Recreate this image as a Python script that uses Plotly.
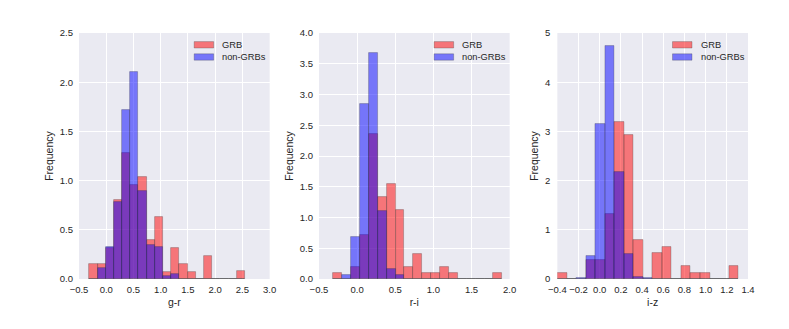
import plotly.graph_objects as go

# ---------------- data (density histograms) ----------------
# bin edges for each panel (19 bins each)
gr_edges = [-0.310, -0.160, -0.009, 0.141, 0.291, 0.442, 0.592, 0.742, 0.892, 1.043,
            1.193, 1.343, 1.494, 1.644, 1.794, 1.945, 2.095, 2.245, 2.395, 2.546]
gr_grb = [0.152, 0.152, 0.32, 0.80, 1.277, 0.955, 1.033, 0.396, 0.633, 0.074,
          0.315, 0.152, 0.074, 0.0, 0.234, 0.0, 0.0, 0.0, 0.078]
gr_non = [0.0, 0.112, 0.322, 0.78, 1.72, 2.10, 0.894, 0.345, 0.322, 0.034,
          0.051, 0.0, 0.0, 0.0, 0.0, 0.0, 0.0, 0.0, 0.0]

ri_edges = [-0.311, -0.195, -0.078, 0.039, 0.155, 0.272, 0.388, 0.505, 0.621, 0.738,
            0.854, 0.971, 1.087, 1.204, 1.320, 1.437, 1.553, 1.670, 1.786, 1.903]
ri_grb = [0.097, 0.0, 0.19, 0.714, 2.365, 1.336, 1.537, 1.12, 0.195, 0.40,
          0.092, 0.092, 0.19, 0.092, 0.0, 0.0, 0.0, 0.0, 0.092]
ri_non = [0.0, 0.065, 0.68, 2.84, 3.67, 1.104, 0.162, 0.06, 0.0, 0.0,
          0.0, 0.0, 0.0, 0.0, 0.0, 0.0, 0.0, 0.0, 0.0]

iz_edges = [-0.400, -0.310, -0.220, -0.130, -0.040, 0.050, 0.140, 0.230, 0.320, 0.410,
            0.500, 0.590, 0.680, 0.770, 0.860, 0.950, 1.040, 1.130, 1.220, 1.310]
iz_grb = [0.115, 0.0, 0.0, 0.386, 0.386, 1.326, 3.19, 2.92, 0.79, 0.0,
          0.53, 0.656, 0.0, 0.257, 0.122, 0.122, 0.0, 0.0, 0.257]
iz_non = [0.0, 0.0, 0.02, 0.467, 3.16, 4.73, 2.165, 0.50, 0.047, 0.027,
          0.0, 0.0, 0.0, 0.0, 0.0, 0.0, 0.0, 0.0, 0.0]

x_titles = ["g-r", "r-i", "i-z"]
y_title = "Frequency"
series_names = ["GRB", "non-GRBs"]

# ---------------- style ----------------
RED = "rgba(255,0,0,0.5)"
BLUE = "rgba(0,0,255,0.5)"
EDGE = "rgba(50,50,50,0.35)"
BG = "#EAEAF2"
TXT = "#262626"
FONT = "Liberation Sans, Arial, sans-serif"

panels = [
    (gr_edges, gr_grb, gr_non, [-0.5, 3.0], 0.5, ".1f", [0, 2.5], 0.5, ".1f", 5),
    (ri_edges, ri_grb, ri_non, [-0.5, 2.0], 0.5, ".1f", [0, 4.0], 0.5, ".1f", 5),
    (iz_edges, iz_grb, iz_non, [-0.4, 1.4], 0.2, ".1f", [0, 5.0], 1, "d", 6),
]
domains = [[0.0, 0.285], [0.3587, 0.6437], [0.715, 1.0]]

fig = go.Figure()
layout_axes = {}
shapes = []
annotations = []

for i, (edges, grb, non, xr, xd, xf, yr, yd, yf, ysoff) in enumerate(panels):
    sfx = "" if i == 0 else str(i + 1)
    centers = [(edges[k] + edges[k + 1]) / 2 for k in range(len(edges) - 1)]
    widths = [edges[k + 1] - edges[k] for k in range(len(edges) - 1)]
    for name, vals, col in [(series_names[0], grb, RED), (series_names[1], non, BLUE)]:
        fig.add_trace(go.Bar(
            x=centers, y=vals, width=widths, name=name,
            marker=dict(color=col, line=dict(color=EDGE, width=0.8)),
            xaxis="x" + sfx, yaxis="y" + sfx, showlegend=False,
        ))
    common = dict(showgrid=True, gridcolor="white", gridwidth=1, zeroline=False,
                  showline=False, ticks="", tickfont=dict(size=9.5, color=TXT, family=FONT))
    layout_axes["xaxis" + sfx] = dict(
        common, domain=domains[i], anchor="y" + sfx, range=xr, dtick=xd, tick0=0,
        tickformat=xf, ticklabelstandoff=3,
        title=dict(text=x_titles[i], font=dict(size=10.5, color=TXT, family=FONT), standoff=5),
    )
    layout_axes["yaxis" + sfx] = dict(
        common, domain=[0, 1], anchor="x" + sfx, range=yr, dtick=yd, tick0=0,
        tickformat=yf, ticklabelstandoff=ysoff,
        title=dict(text=y_title, font=dict(size=10.5, color=TXT, family=FONT), standoff=4),
    )
    # legend (patch + label) in the upper right of each panel
    for r, (name, col) in enumerate([(series_names[0], RED), (series_names[1], BLUE)]):
        yc = -11.8 - 12.2 * r
        shapes.append(dict(
            type="rect", xref="x" + sfx + " domain", yref="y" + sfx + " domain",
            xsizemode="pixel", ysizemode="pixel", xanchor=1, yanchor=1,
            x0=-75.5, x1=-56, y0=yc - 3.2, y1=yc + 3.2,
            fillcolor=col, line=dict(color=EDGE, width=0.8), layer="above",
        ))
        annotations.append(dict(
            text=name, xref="x" + sfx + " domain", yref="y" + sfx + " domain",
            x=1, y=1, xshift=-49.5, yshift=yc, xanchor="left", yanchor="middle",
            showarrow=False, font=dict(size=9.3, color=TXT, family=FONT),
        ))

# the page body adds an 8 px offset, so the figure is 8 px smaller on each side
fig.update_layout(
    width=781, height=321,
    margin=dict(l=71, r=41, t=25, b=50),
    paper_bgcolor="white", plot_bgcolor=BG,
    barmode="overlay", bargap=0,
    font=dict(family=FONT, color=TXT),
    shapes=shapes, annotations=annotations,
    **layout_axes,
)

fig.write_html("out.html")
